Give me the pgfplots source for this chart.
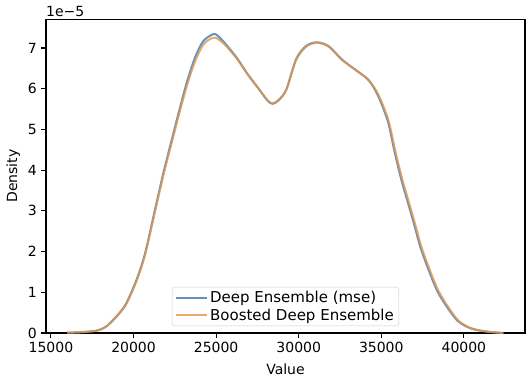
\documentclass[border=0pt]{standalone}
\usepackage{fontspec}
\setmainfont{DejaVu Sans}
\usepackage{pgfplots}
\pgfplotsset{compat=1.18}
\definecolor{mblue}{RGB}{60,120,180}
\definecolor{morange}{RGB}{225,150,75}
\pgfplotstableread{
x y
15984 0.007
16825 0.02
17785 0.057
18325 0.15
18787 0.32
19225 0.52
19585 0.73
20185 1.28
20700 1.92
21300 2.98
21824 3.90
22424 4.85
22725 5.33
23229 6.07
23727 6.67
24225 7.08
24729 7.24
25029 7.24
25528 7.08
26230 6.75
26926 6.34
27628 5.97
28108 5.72
28408 5.64
28768 5.72
29248 5.97
29848 6.71
30448 7.03
31108 7.13
31828 7.03
32608 6.71
33448 6.46
34228 6.22
34828 5.85
35428 5.23
35833 4.50
36229 3.84
36631 3.27
37033 2.70
37429 2.12
37934 1.55
38432 1.06
39032 0.65
39633 0.32
40233 0.155
40833 0.074
41600 0.025
42390 0.0
}\boosted
\pgfplotstableread{
x y
15984 0.007
16825 0.02
17785 0.058
18325 0.155
18787 0.33
19225 0.53
19585 0.75
20185 1.31
20700 1.96
21300 3.03
21824 3.96
22424 4.92
22725 5.40
23229 6.16
23727 6.77
24225 7.17
24825 7.34
25100 7.30
25528 7.12
26230 6.77
26926 6.35
27628 5.97
28108 5.71
28408 5.63
28768 5.71
29248 5.98
29848 6.73
30448 7.05
31108 7.14
31828 7.04
32608 6.72
33448 6.46
34228 6.21
34788 5.84
35388 5.21
35793 4.47
36189 3.80
36591 3.23
36993 2.66
37389 2.08
37894 1.52
38392 1.03
38992 0.63
39593 0.31
40193 0.15
40793 0.072
41600 0.024
42390 0.0
}\mse
\begin{document}
\begin{tikzpicture}
\begin{axis}[
  name=ax,
  anchor=south west, at={(0pt,0pt)},
  width=479pt, height=313.7pt, scale only axis,
  xmin=14700, xmax=43700, ymin=0, ymax=7.705,
  xtick={15000,20000,25000,30000,35000,40000},
  ytick={0,1,2,3,4,5,6,7},
  scaled ticks=false,
  /pgf/number format/.cd, 1000 sep={}, assume math mode=true, /pgfplots/.cd,
  tick align=outside, tick pos=left,
  major tick length=4.7pt,
  every tick/.style={black, line width=1.07pt},
  axis line style={line width=1.07pt},
  ticklabel style={font=\fontsize{14}{17}\selectfont},
  xticklabel style={yshift=-1pt},
  yticklabel style={xshift=-1pt},
  xlabel={Value}, ylabel={Density},
  label style={font=\fontsize{14}{17}\selectfont},
  xlabel style={yshift=-4pt},
  ylabel style={yshift=1pt},
  legend style={at={(0.5,0.022)}, anchor=south, draw=black!20, rounded corners=2.5pt,
    fill=white, fill opacity=0.8, text opacity=1,
    font=\fontsize{15}{18}\selectfont, row sep=1pt, inner xsep=3pt, inner ysep=2pt},
  legend cell align=left,
  legend image code/.code={\draw[#1] (0pt,0pt) -- (31pt,0pt);},
  clip=false,
]
\addplot[mblue, line width=2pt, opacity=0.8, smooth, tension=0.5] table[x=x,y=y] {\mse};
\addlegendentry{Deep Ensemble (mse)}
\addplot[morange, line width=2pt, opacity=0.8, smooth, tension=0.5] table[x=x,y=y] {\boosted};
\addlegendentry{Boosted Deep Ensemble}
\node[anchor=south west, inner sep=0pt, font=\fontsize{14}{17}\selectfont] at (rel axis cs:0,1) [yshift=2pt] {1e−5};
\end{axis}
\pgfresetboundingbox
\path (-46pt,-47pt) rectangle (482pt,333pt);
\end{tikzpicture}
\end{document}
